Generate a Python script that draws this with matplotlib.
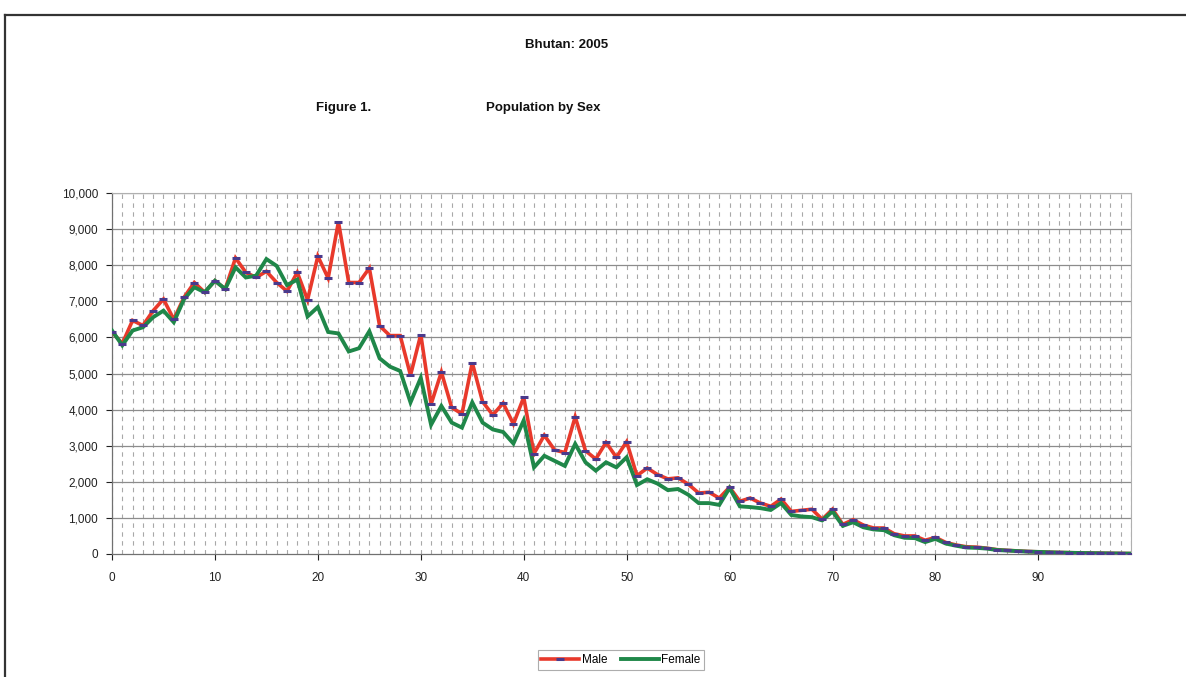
import matplotlib
matplotlib.use("Agg")
import matplotlib.pyplot as plt
from matplotlib.lines import Line2D

plt.rcParams['font.family'] = ['Liberation Sans', 'DejaVu Sans']

ages = list(range(100))
male = [6150, 5830, 6470, 6330, 6740, 7060, 6500, 7110, 7520, 7250,
        7570, 7340, 8200, 7800, 7660, 7830, 7520, 7280, 7800, 7040,
        8250, 7640, 9200, 7520, 7520, 7920, 6320, 6050, 6050, 4950,
        6080, 4150, 5040, 4060, 3880, 5300, 4220, 3850, 4180, 3600,
        4340, 2780, 3290, 2880, 2810, 3800, 2860, 2630, 3090, 2680,
        3110, 2170, 2380, 2200, 2080, 2110, 1930, 1690, 1710, 1550,
        1850, 1460, 1550, 1410, 1320, 1520, 1180, 1210, 1240, 960,
        1240, 820, 950, 800, 720, 720, 560, 500, 500, 380,
        460, 320, 250, 200, 190, 160, 120, 100, 85, 70,
        60, 50, 42, 36, 30, 26, 22, 18, 15, 12]
female = [6190, 5780, 6190, 6280, 6560, 6740, 6420, 7060, 7390, 7250,
          7570, 7340, 7940, 7660, 7710, 8170, 7980, 7450, 7600, 6580,
          6840, 6150, 6110, 5610, 5700, 6170, 5420, 5190, 5070, 4200,
          4880, 3580, 4100, 3640, 3500, 4200, 3640, 3450, 3380, 3060,
          3700, 2400, 2720, 2580, 2440, 3050, 2540, 2310, 2540, 2400,
          2680, 1910, 2070, 1950, 1770, 1800, 1640, 1410, 1410, 1360,
          1830, 1320, 1300, 1270, 1220, 1410, 1080, 1040, 1020, 930,
          1180, 780, 880, 740, 680, 660, 520, 450, 440, 330,
          420, 290, 230, 180, 170, 150, 110, 95, 80, 65,
          58, 48, 40, 34, 28, 24, 20, 16, 13, 10]
x_labels = [str(v) for v in range(0, 100, 10)]
y_ticks = list(range(0, 10001, 1000))

RED = '#e8392b'
GREEN = '#1f8749'
MARK = '#4a3a8c'

fig = plt.figure(figsize=(11.86, 6.77), dpi=100)
fig.patch.set_facecolor('white')

# outer frame lines
fig.add_artist(Line2D([5/1186, 1.0], [1-15/677, 1-15/677], color='#333333', lw=1.6,
                      transform=fig.transFigure))
fig.add_artist(Line2D([5/1186, 5/1186], [0, 1-15/677], color='#333333', lw=1.6,
                      transform=fig.transFigure))

fig.text(567/1186, 1-45/677, 'Bhutan: 2005', ha='center', va='center',
         fontsize=9.5, fontweight='bold', color='#111111')
fig.text(344/1186, 1-108/677, 'Figure 1.', ha='center', va='center',
         fontsize=9.5, fontweight='bold', color='#111111')
fig.text(543/1186, 1-108/677, 'Population by Sex', ha='center', va='center',
         fontsize=9.5, fontweight='bold', color='#111111')

ax = fig.add_axes([112/1186, 1-554/677, (1131-112)/1186, (554-193)/677])
ax.set_xlim(0, 99)
ax.set_ylim(0, 10000)

# gridlines
for a in ages:
    ax.axvline(a, color='#a8a8a8', lw=0.8, linestyle=(0, (4, 4)), zorder=1)
for v in y_ticks[1:]:
    ax.axhline(v, color='#8c8c8c', lw=0.9, zorder=1)

ax.plot(ages, male, color=RED, lw=2.6, zorder=3, solid_joinstyle='miter')
ax.plot(ages, female, color=GREEN, lw=2.8, zorder=4, solid_joinstyle='miter')
ax.plot(ages, male, linestyle='none', marker='_', markersize=6, markeredgewidth=2.2,
        color=MARK, zorder=5)

ax.set_yticks(y_ticks)
ax.set_yticklabels([f'{v:,}' for v in y_ticks])
ax.set_xticks(list(range(0, 100, 10)))
ax.set_xticklabels(x_labels)
ax.tick_params(axis='both', labelsize=8.5, colors='#222222', length=4, width=0.8)
ax.tick_params(axis='x', pad=9)
ax.tick_params(axis='y', pad=6)
for s in ['left', 'bottom']:
    ax.spines[s].set_color('#707070')
    ax.spines[s].set_linewidth(0.9)
for s in ['top', 'right']:
    ax.spines[s].set_color('#b0b0b0')
    ax.spines[s].set_linewidth(0.8)

h_male = Line2D([], [], color=RED, lw=2.6, marker='_', markersize=6,
                markeredgewidth=2.2, markeredgecolor=MARK)
h_female = Line2D([], [], color=GREEN, lw=2.8)
leg = fig.legend([h_male, h_female], ['Male', 'Female'], loc='center',
                 bbox_to_anchor=(621/1186, 1-660/677), ncol=2, fontsize=8.5,
                 frameon=True, fancybox=False, edgecolor='#999999',
                 handlelength=3.2, handletextpad=0.2, columnspacing=1.2,
                 borderpad=0.3)
leg.get_frame().set_linewidth(0.8)

fig.savefig('out.png', dpi=100, facecolor='white')
